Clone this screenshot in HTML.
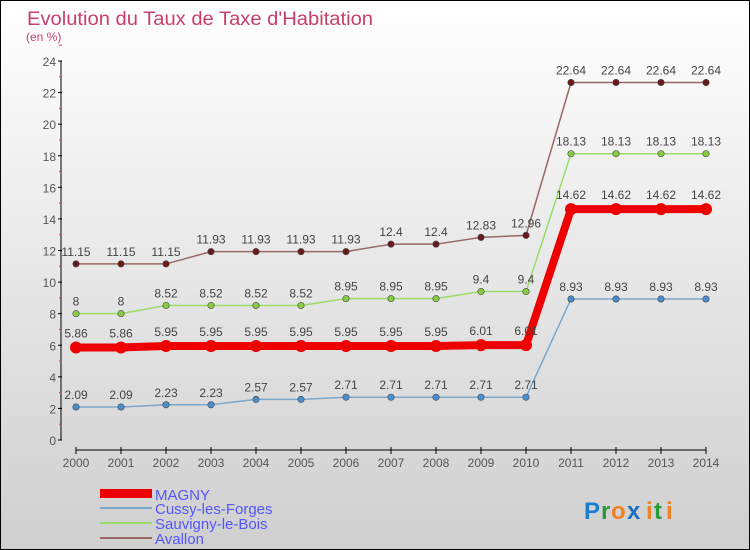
<!DOCTYPE html>
<html><head><meta charset="utf-8"><style>
body{margin:0}
#c{position:relative;width:748px;height:548px;border:1px solid #000;background:linear-gradient(#ffffff,#cfcfcf);overflow:hidden;font-family:"Liberation Sans",sans-serif}
</style></head><body>
<div id="c">
<svg id="s" width="748" height="548" style="position:absolute;left:0;top:0">
<text x="26" y="24" font-size="19" fill="#c8406a" textLength="346" lengthAdjust="spacingAndGlyphs">Evolution du Taux de Taxe d'Habitation</text>
<text x="25" y="40" font-size="12" fill="#c8406a">(en %)</text>
<g id="axes"></g><g id="series"></g>
<g>
<rect x="99" y="488" width="52" height="9" fill="#e00"/>
<text x="154" y="499" font-size="15" fill="#5555ff">MAGNY</text>
<line x1="99" y1="507" x2="151" y2="507" stroke="#7aa7cc" stroke-width="2"/>
<text x="154" y="513" font-size="15" fill="#5555ff">Cussy-les-Forges</text>
<line x1="99" y1="522" x2="151" y2="522" stroke="#99dd66" stroke-width="2"/>
<text x="154" y="528" font-size="15" fill="#5555ff">Sauvigny-le-Bois</text>
<line x1="99" y1="537" x2="151" y2="537" stroke="#9a6666" stroke-width="2"/>
<text x="154" y="543" font-size="15" fill="#5555ff">Avallon</text>
</g>
<g font-size="24" font-weight="bold">
<text x="583" y="518" fill="#1a7fd0">P</text><text x="600" y="518" fill="#2a9a3a">r</text><text x="610" y="518" fill="#f08020">o</text><text x="626" y="518" fill="#1a6fc0">x</text><text x="645" y="518" fill="#f08020">i</text><text x="653" y="518" fill="#2a9a3a">t</text><text x="665" y="518" fill="#f08020">i</text>
</g>
</svg>
</div>
<script>
const years=[2000,2001,2002,2003,2004,2005,2006,2007,2008,2009,2010,2011,2012,2013,2014];
const yTicks=[0,2,4,6,8,10,12,14,16,18,20,22,24];
const magny=[5.86,5.86,5.95,5.95,5.95,5.95,5.95,5.95,5.95,6.01,6.01,14.62,14.62,14.62,14.62];
const cussy=[2.09,2.09,2.23,2.23,2.57,2.57,2.71,2.71,2.71,2.71,2.71,8.93,8.93,8.93,8.93];
const sauvigny=[8,8,8.52,8.52,8.52,8.52,8.95,8.95,8.95,9.4,9.4,18.13,18.13,18.13,18.13];
const avallon=[11.15,11.15,11.15,11.93,11.93,11.93,11.93,12.4,12.4,12.83,12.96,22.64,22.64,22.64,22.64];
const NS="http://www.w3.org/2000/svg";
function X(i){return 75+i*(630/(years.length-1));}
function Y(v){return 439-v*(379/24);}
function mk(t,a,p){const e=document.createElementNS(NS,t);for(const k in a)e.setAttribute(k,a[k]);p.appendChild(e);return e;}
const ax=document.getElementById('axes');
let yl=mk('line',{x1:60,y1:Y(24),x2:60,y2:Y(0),stroke:'#000'},ax);


yTicks.forEach(v=>{
 mk('line',{x1:57,y1:Y(v),x2:61,y2:Y(v),stroke:'#000'},ax);
 mk('line',{x1:58,y1:Y(v+1),x2:61,y2:Y(v+1),stroke:'#f33'},ax);
 const t=mk('text',{x:55,y:Y(v)+5,'font-size':12,fill:'#555','text-anchor':'end'},ax);t.textContent=v;
 
 
});
let xl=mk('line',{x1:X(0),y1:449,x2:X(years.length-1),y2:449,stroke:'#000'},ax);


years.forEach((y,i)=>{
 mk('line',{x1:X(i),y1:446,x2:X(i),y2:453,stroke:'#000'},ax);
 const t=mk('text',{x:X(i),y:466,'font-size':12,fill:'#555','text-anchor':'middle'},ax);t.textContent=y;
 
 
});
const sg=document.getElementById('series');
function draw(vals,name,col,dot,w,r,lblOff){
 const g=mk('g',{},sg);
 
 
 mk('polyline',{points:vals.map((v,i)=>X(i)+','+Y(v)).join(' '),fill:'none',stroke:col,'stroke-width':w},g);
 vals.forEach((v,i)=>{
  const c=mk('circle',{cx:X(i),cy:Y(v),r:r,fill:dot,stroke:'#444','stroke-width':w>3?0:0.6},g);
  
  
  const t=mk('text',{x:X(i),y:Y(v)-lblOff,'font-size':12,fill:'#444','text-anchor':'middle'},g);t.textContent=v;
  
  
 });
}
draw(cussy,'cussy','#7aa7cc','#4a8fcc',1.5,3.2,8);
draw(sauvigny,'sauvigny','#99dd66','#88cc44',1.5,3.2,8);
draw(avallon,'avallon','#9a6666','#6a1a1a',1.5,3.2,8);
draw(magny,'magny','#ee0000','#ee0000',8,6,10);
</script>
</body></html>
